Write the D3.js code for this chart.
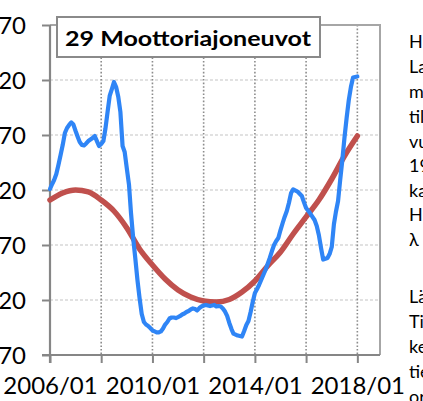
<!DOCTYPE html>
<html>
<head>
<meta charset="utf-8">
<script src="https://cdn.jsdelivr.net/npm/d3@7"></script>
<style>
  html, body { margin: 0; padding: 0; background: #fff; overflow: hidden; }
  svg { display: block; }
  text { font-family: Lato, "Open Sans", "DejaVu Sans", sans-serif; fill: #000; }
</style>
</head>
<body>
<svg id="chart" width="423" height="401"></svg>
<script>
// ---- data ---------------------------------------------------------------
const chartTitle = "29 Moottoriajoneuvot";

// Observed series: month offsets from 2006/01 and values
const seriesMonths = [
  0, 1, 2, 3, 4, 5, 6, 7, 8, 9, 10, 11, 12, 13, 14, 15, 16, 17, 18, 19,
  20, 21, 22, 23, 24, 25, 26, 27, 28, 29, 30, 31, 32, 33, 34, 35, 36, 37, 38, 39,
  40, 41, 42, 43, 44, 45, 46, 47, 48, 49, 50, 51, 52, 53, 54, 55, 56, 57, 58, 59,
  60, 61, 62, 63, 64, 65, 66, 67, 68, 69, 70, 71, 72, 73, 74, 75, 76, 77, 78, 79,
  80, 81, 82, 83, 84, 85, 86, 87, 88, 89, 90, 91, 92, 93, 94, 95, 96, 97, 98, 100,
  101, 103, 104, 105, 106, 107, 108, 109, 110, 111, 112, 113, 114, 116, 118, 119,
  120, 122, 124, 125, 126, 127, 128, 130, 131, 132, 133, 134, 135, 136, 137, 138,
  139, 140, 141, 142, 144
];
const seriesValues = [
  220.9, 225.5, 229.1, 234.5, 242.7, 251.8, 260.9, 271.8, 276.4, 279.1, 281.4, 279.5, 273.6, 268.2, 263.6, 260.9, 260.5, 262.3, 264.5, 265.9,
  267.3, 269.1, 264.5, 260.0, 261.8, 264.5, 275.5, 290.9, 305.5, 311.8, 318.2, 313.6, 304.5, 290.9, 260.0, 254.5, 239.3, 224.5, 199.1, 176.4,
  158.2, 138.2, 121.8, 107.3, 100.0, 97.7, 96.4, 94.5, 92.3, 91.4, 90.6, 90.5, 91.4, 94.1, 97.7, 100.0, 103.2, 104.1, 104.1, 103.6,
  104.5, 105.5, 106.8, 107.7, 109.1, 110.0, 111.4, 112.3, 111.8, 110.5, 112.7, 114.1, 115.0, 115.5, 115.0, 114.5, 115.0, 115.5, 114.1, 114.5,
  114.1, 112.3, 109.5, 105.5, 99.1, 93.6, 89.5, 88.6, 87.7, 87.3, 86.8, 91.8, 97.3, 100.9, 109.1, 118.2, 126.4, 130.0, 133.6, 142.7,
  147.3, 158.2, 164.5, 170.0, 173.6, 176.4, 183.6, 190.0, 195.5, 200.9, 208.2, 217.3, 220.5, 218.6, 214.5, 209.0,
  203.6, 198.6, 192.7, 187.3, 179.1, 167.3, 156.8, 158.2, 161.8, 168.2, 189.0, 200.0, 210.0, 229.0, 247.3, 267.3,
  285.5, 301.8, 313.6, 322.3, 323.2
];

// Smoothed trend: month offsets from 2006/01 and values
const trendMonths = [0, 6, 12, 18, 24, 30, 36, 42, 48, 54, 60, 66, 72, 78, 84, 90, 96, 102, 108, 114, 120, 126, 132, 138, 144];
const trendValues = [
  210.9, 217.3, 220.0, 218.2, 210.9, 200.9, 185.5, 166.4, 151.8, 139.1, 129.1, 122.7, 119.1,
  118.2, 120.5, 127.3, 137.3, 150.9, 163.6, 180.0, 195.5, 210.9, 230.0, 250.9, 269.1
];

const yTicks = [70, 120, 170, 220, 270, 320, 370];
const xLabelYears = [2006, 2010, 2014, 2018];

const noteLines = ["H", "La", "m", "til", "vu", "19", "ka", "H", "λ", "", "Lä", "Ti", "ke", "tie", "or"];

// ---- layout -------------------------------------------------------------
const svg = d3.select("#chart");
const plotLeft = 50, plotRight = 380, plotTop = 25, plotBottom = 355;

const monthDate = m => new Date(2006, m, 1);

const x = d3.scaleTime()
  .domain([new Date(2006, 0, 1), new Date(2018, 10, 20)])
  .range([plotLeft, plotRight]);
const y = d3.scaleLinear().domain([70, 370]).range([plotBottom, plotTop]);

const gridYears = d3.range(2006, 2019, 2).map(yr => new Date(yr, 0, 1));

// horizontal grid (dashed, light)
svg.append("g").selectAll("line").data(yTicks.slice(1))
  .join("line")
  .attr("x1", plotLeft).attr("x2", plotRight)
  .attr("y1", d => y(d)).attr("y2", d => y(d))
  .attr("stroke", "#c4c4c4").attr("stroke-width", 1.2)
  .attr("stroke-dasharray", "3,2");

// vertical grid (dotted)
svg.append("g").selectAll("line").data(gridYears.slice(1))
  .join("line")
  .attr("x1", d => x(d)).attr("x2", d => x(d))
  .attr("y1", plotTop).attr("y2", plotBottom)
  .attr("stroke", "#8c8c8c").attr("stroke-width", 1.6)
  .attr("stroke-dasharray", "1.6,2");

// plot frame: top and right edges
svg.append("path")
  .attr("d", `M${plotLeft},${plotTop}H${plotRight}V${plotBottom}`)
  .attr("fill", "none").attr("stroke", "#a6a6a6").attr("stroke-width", 2);

// y axis
const yAxis = d3.axisLeft(y).tickValues(yTicks).tickSize(8).tickPadding(16)
  .tickFormat(d3.format("d"));
const gy = svg.append("g").attr("transform", `translate(${plotLeft},0)`).call(yAxis);
gy.select(".domain").attr("stroke", "#868686").attr("stroke-width", 2.2)
  .attr("d", `M0,${plotTop}V${plotBottom + 8}`);
gy.selectAll(".tick line").attr("stroke", "#868686").attr("stroke-width", 2);
gy.selectAll(".tick text")
  .attr("font-size", 24).attr("font-family", "Lato, 'Open Sans', sans-serif")
  .attr("dy", "0.36em");

// x axis
const xAxis = d3.axisBottom(x).tickValues(gridYears).tickSize(8).tickPadding(14)
  .tickFormat(d => xLabelYears.includes(d.getFullYear()) ? d3.timeFormat("%Y/%m")(d) : "");
const gx = svg.append("g").attr("transform", `translate(0,${plotBottom})`).call(xAxis);
gx.select(".domain").attr("stroke", "#868686").attr("stroke-width", 2.2)
  .attr("d", `M${plotLeft - 8},0H${plotRight}`);
gx.selectAll(".tick line").attr("stroke", "#868686").attr("stroke-width", 2);
gx.selectAll(".tick text")
  .attr("font-size", 24).attr("font-family", "Lato, 'Open Sans', sans-serif");

// ---- series -------------------------------------------------------------
const line = d3.line()
  .x(d => x(monthDate(d[0])))
  .y(d => y(d[1]))
  .curve(d3.curveMonotoneX);

svg.append("path")
  .datum(d3.zip(trendMonths, trendValues))
  .attr("fill", "none").attr("stroke", "#c0504d")
  .attr("stroke-width", 5.5).attr("stroke-linecap", "round")
  .attr("d", line);

svg.append("path")
  .datum(d3.zip(seriesMonths, seriesValues))
  .attr("fill", "none").attr("stroke", "#2f85f6")
  .attr("stroke-width", 4.2).attr("stroke-linejoin", "round").attr("stroke-linecap", "round")
  .attr("d", line.curve(d3.curveLinear));

// ---- title box ----------------------------------------------------------
const tg = svg.append("g");
tg.append("rect")
  .attr("x", 57).attr("y", 17).attr("width", 263).attr("height", 40)
  .attr("fill", "#fff").attr("stroke", "#8a8a8a").attr("stroke-width", 2);
tg.append("text")
  .attr("x", 65).attr("y", 46)
  .attr("font-size", 21).attr("font-weight", "bold")
  .attr("textLength", 246).attr("lengthAdjust", "spacingAndGlyphs")
  .text(chartTitle);

// ---- side note ----------------------------------------------------------
const noteY = [48, 73, 98, 123, 148, 172, 197, 221, 246, 271, 303, 328, 353, 378, 403];
svg.append("g").selectAll("text").data(noteLines)
  .join("text")
  .attr("x", 409)
  .attr("y", (d, i) => noteY[i])
  .attr("font-size", 18)
  .text(d => d);
</script>
</body>
</html>
